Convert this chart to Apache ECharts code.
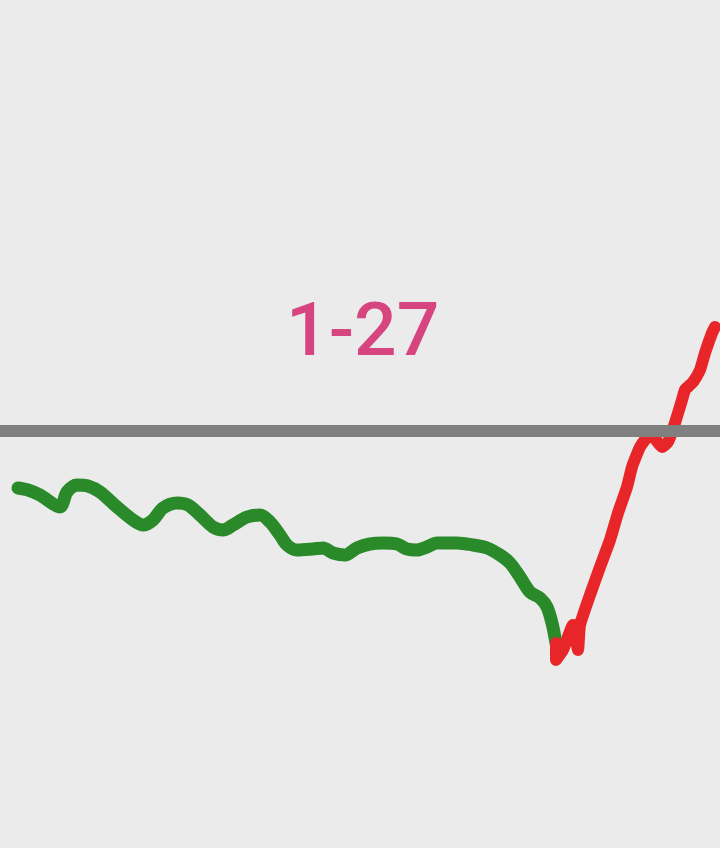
<!DOCTYPE html>
<html>
<head>
<meta charset="utf-8">
<script src="https://cdn.jsdelivr.net/npm/echarts@6/dist/echarts.min.js"></script>
<style>
html,body{margin:0;padding:0;background:#ebebeb;}
#c{width:720px;height:848px;}
</style>
</head>
<body>
<div id="c"></div>
<script>
// Title text
const titleText = '1-27';
// Reference level (gray horizontal line)
const baseLevel = 0;
// Green segment: [x position, level relative to gray line]
const greenX = [18,28,40,60,67,77,88,100,117,133,143,153,163,177,188,200,213,223,233,247,260,270,280,287,297,313,323,333,345,357,370,383,397,407,417,427,437,457,473,487,500,510,520,530,540,547,552,556];
const greenY = [-57,-59,-64,-76,-61,-54,-55,-61,-76,-89,-94,-89,-77,-72,-74,-84,-96,-99,-94,-86,-84,-91,-104,-114,-119,-118,-117,-122,-124,-117,-113,-112,-113,-118,-119,-116,-112,-112,-114,-117,-124,-132,-146,-161,-167,-176,-192,-212];
// Red segment
const redX = [556,556,563,573,578,580,590,600,610,618,627,632,640,648,653,662,668,675,682,685,693,700,705,712,715];
const redY = [-212,-229,-219,-194,-219,-194,-164,-136,-109,-82,-56,-36,-16,-6,-6,-16,-11,8,31,41,49,61,78,98,104];

const zip = (xs, ys) => xs.map((x, i) => [x, ys[i]]);

const chart = echarts.init(document.getElementById('c'));
chart.setOption({
  backgroundColor: '#ebebeb',
  animation: false,
  title: {
    text: titleText,
    left: 281, top: 294,
    textStyle: {
      color: '#d6457f',
      fontSize: 75,
      fontWeight: 500,
      fontFamily: 'Roboto'
    }
  },
  grid: {left: 0, right: 0, top: 0, bottom: 0},
  xAxis: {type: 'value', min: 0, max: 720, show: false},
  yAxis: {type: 'value', min: -417, max: 431, show: false},
  series: [
    {
      type: 'line', data: [], z: 1,
      markLine: {
        silent: true, symbol: 'none', label: {show: false},
        lineStyle: {color: '#808080', width: 12, type: 'solid'},
        data: [{yAxis: baseLevel}]
      }
    },
    {
      type: 'line', data: zip(greenX, greenY), z: 2,
      showSymbol: false, smooth: 0.3,
      lineStyle: {color: '#2a8a2a', width: 13, cap: 'round', join: 'round'}
    },
    {
      type: 'line', data: zip(redX, redY), z: 3,
      showSymbol: false, smooth: 0.15,
      lineStyle: {color: '#e8262a', width: 12, cap: 'round', join: 'round'}
    }
  ]
});
</script>
</body>
</html>
